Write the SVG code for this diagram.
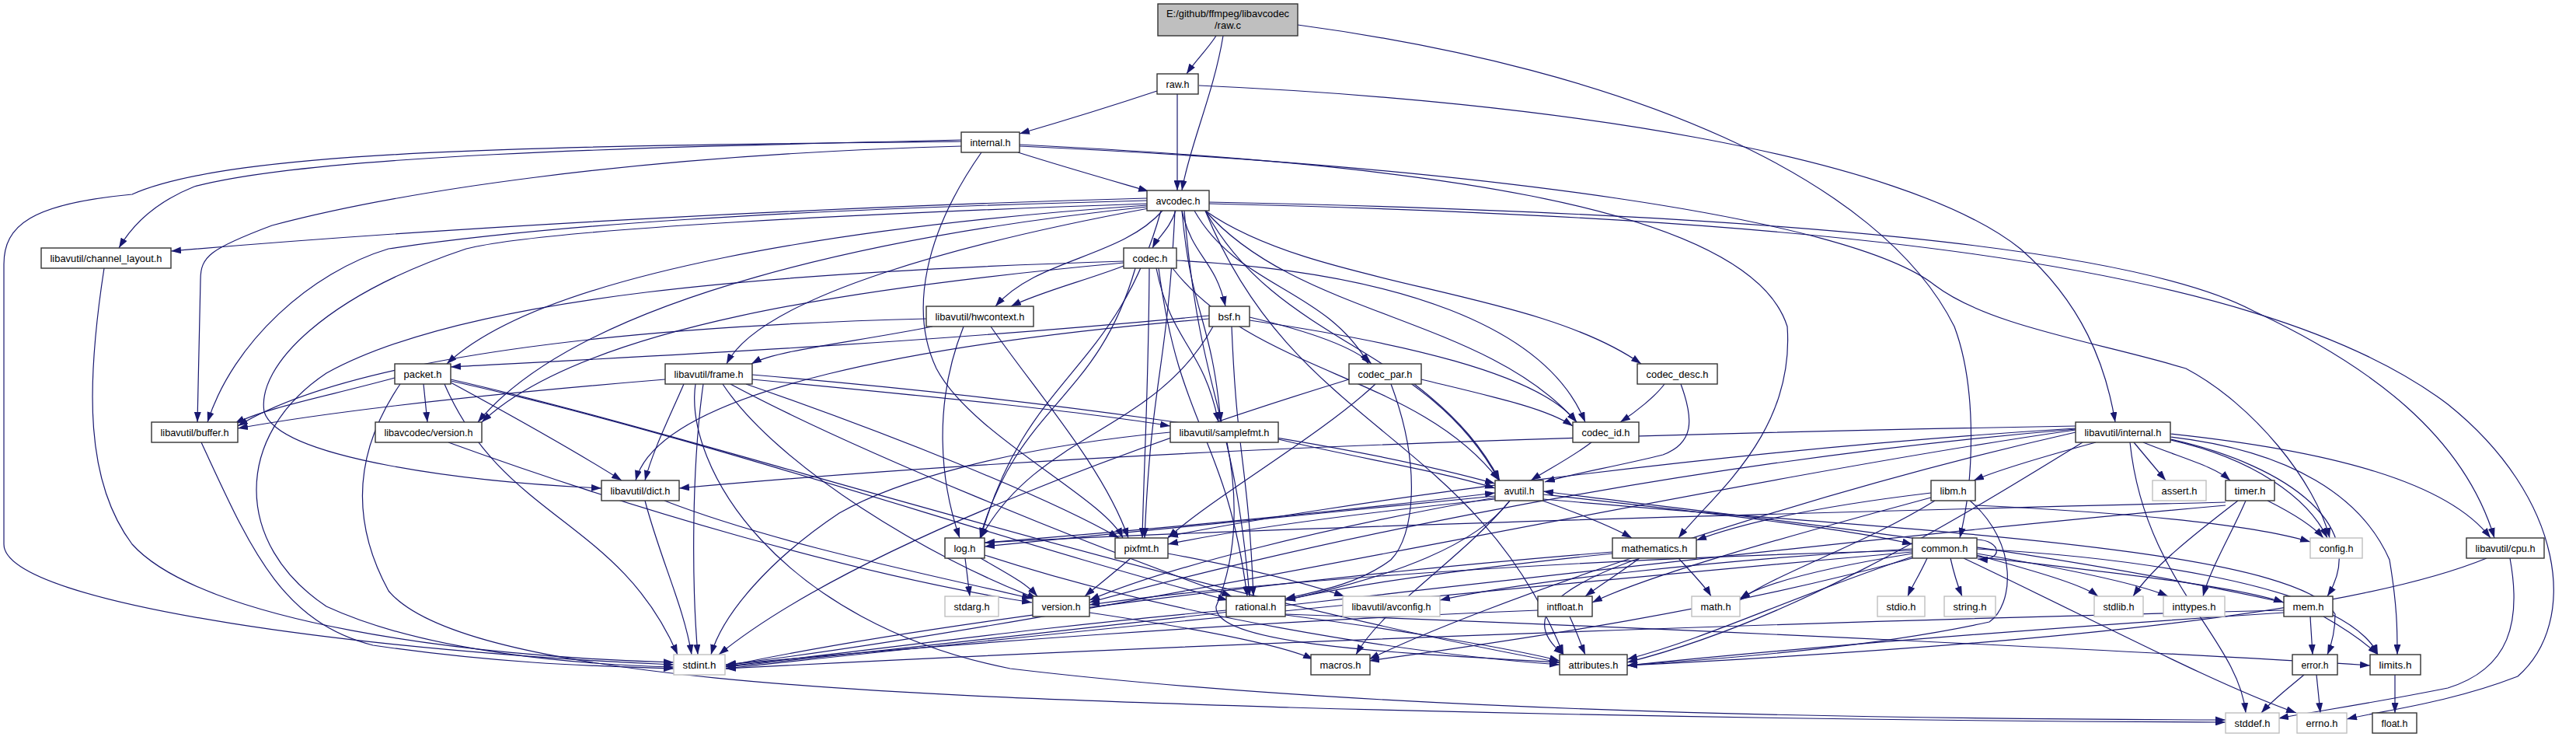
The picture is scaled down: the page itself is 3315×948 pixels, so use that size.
<svg xmlns="http://www.w3.org/2000/svg" width="3315" height="948" viewBox="0 0 3315 948">
<style>
.n rect{fill:#fff;stroke:#333;stroke-width:1.4}
.g rect{fill:#fff;stroke:#bfbfbf;stroke-width:1.4}
.n text,.g text{font-family:"Liberation Sans",Arial,sans-serif;font-size:13.5px;fill:#000;text-anchor:middle}
#edges path{fill:none;stroke:#191970;stroke-width:1.2;marker-end:url(#a)}
</style>
<defs>
<marker id="a" markerUnits="userSpaceOnUse" markerWidth="13" markerHeight="9" refX="13" refY="4.5" orient="auto" viewBox="0 0 13 9" preserveAspectRatio="none"><path d="M0,0 L13,4.5 L0,9 z" fill="#191970"/></marker>
</defs>
<rect width="3315" height="948" fill="#fff"/>
<g id="edges">
<path d="M1565,46 C1555,62 1537,80 1527,95"/>
<path d="M1574,46 C1562,120 1530,190 1521,245"/>
<path d="M1670,32 C2100,90 2420,230 2515,420 C2545,500 2540,620 2522,692"/>
<path d="M1489,117 C1420,140 1360,158 1312,172"/>
<path d="M1515,121 L1515,245"/>
<path d="M1543,110 C2000,130 2450,200 2600,320 C2680,390 2710,470 2722,543"/>
<path d="M1310,196 C1370,215 1430,232 1478,246"/>
<path d="M1237,180 C800,190 400,200 250,240 C200,260 170,290 153,319"/>
<path d="M1237,182 C700,188 300,192 170,250 C40,262 5,290 5,340 L5,700 C5,780 500,840 867,855"/>
<path d="M1237,188 C800,200 500,250 350,290 C270,320 258,330 258,360 L254,543"/>
<path d="M1263,196 C1190,300 1170,400 1205,474 C1250,560 1420,640 1445,692"/>
<path d="M1312,186 C1800,210 2250,260 2300,420 C2310,560 2200,640 2160,692"/>
<path d="M1312,188 C1900,215 2380,280 2490,367 C2560,420 2700,440 2813,474 C2900,520 2980,620 2998,692"/>
<path d="M1556,262 C2300,280 2900,330 3150,520 C3300,640 3320,800 3240,870 C3150,905 3060,915 3020,925"/>
<path d="M1521,271 C1533,407 1559,407 1571,543"/>
<path d="M1551,271 C1666,556 1897,556 2012,842"/>
<path d="M1551,271 C1645,444 1835,444 1929,618"/>
<path d="M1476,258 C1000,270 700,290 500,320 C400,350 300,440 267,543"/>
<path d="M1556,260 C2300,275 2750,320 2900,400 C3050,470 3170,560 3210,692"/>
<path d="M1476,255 C1100,265 600,290 220,323"/>
<path d="M1476,262 C1100,275 700,295 600,320 C420,380 330,470 340,530 C360,590 600,620 774,628"/>
<path d="M1478,268 C1250,310 980,380 935,468"/>
<path d="M1496,271 C1442,332 1335,332 1281,394"/>
<path d="M1494,271 C1436,481 1320,481 1262,692"/>
<path d="M1512,271 C1502,481 1482,481 1473,692"/>
<path d="M1524,271 C1545,519 1587,519 1608,767"/>
<path d="M1521,271 C1535,332 1563,332 1577,394"/>
<path d="M1513,271 C1505,295 1490,305 1483,319"/>
<path d="M1551,271 C1691,370 1972,370 2112,468"/>
<path d="M1537,271 C1593,370 1705,370 1761,468"/>
<path d="M1551,271 C1670,407 1910,407 2029,543"/>
<path d="M1476,264 C1100,290 700,350 575,468"/>
<path d="M1476,266 C1150,300 750,380 615,543"/>
<path d="M1446,336 C1000,350 600,380 420,480 C300,560 300,700 420,780 C550,840 750,855 867,858"/>
<path d="M1509,345 C1614,481 1824,481 1929,618"/>
<path d="M1446,342 C1400,360 1340,375 1301,394"/>
<path d="M1461,345 C1411,518 1311,518 1261,692"/>
<path d="M1479,345 C1478,500 1472,600 1470,692"/>
<path d="M1491,345 C1519,556 1577,556 1605,767"/>
<path d="M1488,345 C1508,444 1548,444 1568,543"/>
<path d="M1514,335 C1800,350 1990,420 2040,543"/>
<path d="M1446,338 C1100,370 750,420 620,543"/>
<path d="M1192,410 C800,420 450,460 306,548"/>
<path d="M1200,420 C1100,440 1000,450 967,468"/>
<path d="M1240,420 C1200,520 1210,620 1235,692"/>
<path d="M1275,420 C1330,500 1420,600 1452,692"/>
<path d="M1556,410 C1200,440 850,500 818,618"/>
<path d="M1561,420 C1486,556 1336,556 1262,692"/>
<path d="M1585,420 C1592,593 1606,593 1613,767"/>
<path d="M1608,412 C1800,440 1980,480 2029,543"/>
<path d="M1608,408 C1680,425 1740,445 1765,468"/>
<path d="M1556,406 C1200,440 900,455 580,472"/>
<path d="M515,494 C470,560 440,650 500,760 C600,880 1200,895 1660,910 C2200,925 2600,928 2864,929"/>
<path d="M572,494 C647,668 797,668 872,842"/>
<path d="M580,488 C900,560 1500,760 2007,852"/>
<path d="M508,486 C420,510 340,525 302,545"/>
<path d="M580,492 C650,530 740,580 800,618"/>
<path d="M580,490 C900,560 1300,700 1580,772"/>
<path d="M545,494 L550,543"/>
<path d="M895,494 C880,600 1000,800 1300,860 C1800,920 2500,925 2864,926"/>
<path d="M905,494 C890,600 890,750 898,842"/>
<path d="M968,482 C1300,510 1700,560 1924,622"/>
<path d="M856,488 C650,505 450,525 306,551"/>
<path d="M880,494 C860,540 840,580 830,618"/>
<path d="M940,494 C1100,580 1400,700 1585,767"/>
<path d="M968,488 C1200,510 1400,530 1506,548"/>
<path d="M960,494 C1150,560 1350,640 1440,692"/>
<path d="M930,494 C1000,600 1200,720 1335,770"/>
<path d="M1736,488 C1500,560 1100,700 925,842"/>
<path d="M1820,494 C1880,540 1910,580 1930,618"/>
<path d="M1790,494 C1830,600 1820,690 1790,720 C1750,750 1700,760 1654,770"/>
<path d="M1770,494 C1700,560 1560,640 1503,692"/>
<path d="M1829,488 C1920,510 1990,525 2024,548"/>
<path d="M2142,494 C2130,510 2105,530 2085,543"/>
<path d="M2163,494 C2180,540 2180,570 2140,585 C2080,600 2020,610 1988,620"/>
<path d="M134,345 C110,500 110,620 170,700 C260,800 600,845 867,852"/>
<path d="M259,569 C320,700 360,800 480,830 C650,855 780,857 867,860"/>
<path d="M577,569 C800,650 1100,740 1328,775"/>
<path d="M1506,556 C1300,575 1150,620 1080,660 C990,720 930,790 915,842"/>
<path d="M1645,565 C1750,590 1850,605 1924,628"/>
<path d="M1579,569 C1595,650 1590,720 1565,780 C1560,830 1800,840 2007,852"/>
<path d="M2048,569 C2020,590 1990,605 1970,618"/>
<path d="M2793,562 C2950,580 3040,640 3075,720 C3085,780 3085,810 3085,842"/>
<path d="M2671,553 C2200,620 1400,800 934,855"/>
<path d="M2741,569 C2760,750 2880,820 2890,917"/>
<path d="M2746,569 L2787,618"/>
<path d="M2793,566 C2900,590 2970,640 2995,692"/>
<path d="M2680,569 C2500,680 2300,800 2094,852"/>
<path d="M2758,569 C2810,590 2850,600 2870,618"/>
<path d="M2793,558 C3000,580 3150,620 3205,692"/>
<path d="M2671,548 C2000,560 1400,580 874,628"/>
<path d="M2671,556 C2300,640 1900,780 1762,848"/>
<path d="M2793,565 C2950,600 3050,680 2995,767"/>
<path d="M2671,551 C2200,580 1700,650 1503,690"/>
<path d="M2671,552 C2100,600 1600,720 1402,775"/>
<path d="M2697,569 C2620,590 2570,605 2540,618"/>
<path d="M830,644 C850,720 880,780 890,842"/>
<path d="M855,644 C1000,700 1200,740 1328,770"/>
<path d="M1986,636 C2200,660 2380,680 2461,700"/>
<path d="M1986,642 C2400,680 2950,700 3005,790 C3005,810 3000,830 2995,842"/>
<path d="M1943,644 C1900,700 1800,740 1654,772"/>
<path d="M1924,640 C1700,680 1500,730 1402,772"/>
<path d="M1943,644 C1880,720 1780,780 1745,842"/>
<path d="M1985,644 C2030,660 2070,675 2100,692"/>
<path d="M1924,638 C1700,660 1400,690 1267,703"/>
<path d="M1924,642 C1750,660 1600,680 1503,700"/>
<path d="M1267,698 C1500,680 1750,655 1924,634"/>
<path d="M2939,775 C2600,700 2200,660 1986,632"/>
<path d="M2490,644 C2400,700 2280,740 2239,772"/>
<path d="M2542,650 C2750,660 2900,675 2973,697"/>
<path d="M2535,644 C2600,700 2590,780 2560,800 C2400,835 2200,848 2094,856"/>
<path d="M2485,640 C2300,690 2120,740 2049,775"/>
<path d="M2485,634 C2350,650 2250,670 2183,695"/>
<path d="M2918,644 C2950,660 2975,675 2990,692"/>
<path d="M2880,644 C2820,690 2770,730 2745,767"/>
<path d="M2864,650 C2300,700 1500,800 934,858"/>
<path d="M2890,644 C2870,690 2845,730 2835,767"/>
<path d="M2864,646 C2300,660 1600,680 1267,698"/>
<path d="M1242,718 L1248,767"/>
<path d="M1267,714 C1500,790 1800,840 2007,855"/>
<path d="M1262,718 C1300,740 1320,750 1335,767"/>
<path d="M1503,712 C1600,730 1680,750 1730,767"/>
<path d="M1455,718 C1430,740 1410,755 1396,767"/>
<path d="M2075,710 C1700,740 1200,800 934,857"/>
<path d="M2160,718 C2180,740 2195,755 2202,767"/>
<path d="M2110,718 C1990,760 1960,800 2012,842"/>
<path d="M2075,712 C1900,730 1750,750 1654,772"/>
<path d="M2110,718 C2080,740 2060,752 2040,767"/>
<path d="M2527,718 C2700,800 2850,880 2955,917"/>
<path d="M2544,712 C2650,730 2750,750 2790,767"/>
<path d="M2544,706 C2800,720 2950,760 3000,790 C3040,810 3055,830 3060,842"/>
<path d="M2461,712 C2350,730 2270,750 2239,770"/>
<path d="M2461,710 C1900,760 1300,820 934,860"/>
<path d="M2480,718 C2470,740 2460,755 2455,767"/>
<path d="M2544,714 C2620,735 2680,752 2700,767"/>
<path d="M2510,718 C2515,740 2520,755 2525,767"/>
<path d="M2461,716 C2300,770 2200,820 2094,848"/>
<path d="M2461,718 C2200,790 1900,830 1762,850"/>
<path d="M2461,708 C2000,720 1600,750 1402,778"/>
<path d="M2461,706 C2200,720 1950,750 1853,772"/>
<path d="M2544,694 C2575,695 2580,722 2545,719"/>
<path d="M2544,716 C2750,740 2880,755 2939,775"/>
<path d="M3230,718 C3245,800 3230,860 3150,885 C3050,905 2980,915 2932,924"/>
<path d="M3200,718 C3000,800 2500,835 2094,856"/>
<path d="M1578,785 C1300,810 1100,840 934,857"/>
<path d="M1654,790 C2200,810 2800,840 3050,856"/>
<path d="M1654,791 C1800,810 1950,835 2007,850"/>
<path d="M1979,785 C1600,800 1200,830 934,855"/>
<path d="M2020,793 C2030,815 2035,830 2040,842"/>
<path d="M2990,793 C3020,810 3045,828 3060,842"/>
<path d="M2939,785 C2300,800 1500,830 934,860"/>
<path d="M2939,788 C2600,810 2300,835 2094,856"/>
<path d="M2973,793 L2976,842"/>
<path d="M2981,868 L2986,917"/>
<path d="M2965,868 C2945,885 2925,900 2910,917"/>
<path d="M3082,868 L3082,917"/>
<path d="M1402,788 C1550,810 1650,830 1690,848"/>
</g>
<g id="n_rawc" class="n"><rect x="1490" y="5" width="180" height="41" style="fill:#bfbfbf"/><text x="1580" y="22" textLength="158" lengthAdjust="spacingAndGlyphs">E:/github/ffmpeg/libavcodec</text><text x="1580" y="37" textLength="34" lengthAdjust="spacingAndGlyphs">/raw.c</text></g>
<g id="n_rawh" class="n"><rect x="1489" y="95" width="53" height="26"/><text x="1515.5" y="112.5" textLength="30" lengthAdjust="spacingAndGlyphs">raw.h</text></g>
<g id="n_internal" class="n"><rect x="1237" y="170" width="75" height="26"/><text x="1274.5" y="187.5" textLength="52" lengthAdjust="spacingAndGlyphs">internal.h</text></g>
<g id="n_avcodec" class="n"><rect x="1476" y="245" width="80" height="26"/><text x="1516" y="262.5" textLength="57" lengthAdjust="spacingAndGlyphs">avcodec.h</text></g>
<g id="n_chlayout" class="n"><rect x="53" y="319" width="167" height="26"/><text x="136.5" y="336.5" textLength="144" lengthAdjust="spacingAndGlyphs">libavutil/channel_layout.h</text></g>
<g id="n_codec" class="n"><rect x="1446" y="319" width="68" height="26"/><text x="1480" y="336.5" textLength="45" lengthAdjust="spacingAndGlyphs">codec.h</text></g>
<g id="n_hwctx" class="n"><rect x="1192" y="394" width="138" height="26"/><text x="1261" y="411.5" textLength="115" lengthAdjust="spacingAndGlyphs">libavutil/hwcontext.h</text></g>
<g id="n_bsf" class="n"><rect x="1556" y="394" width="52" height="26"/><text x="1582" y="411.5" textLength="29" lengthAdjust="spacingAndGlyphs">bsf.h</text></g>
<g id="n_packet" class="n"><rect x="508" y="468" width="72" height="26"/><text x="544" y="485.5" textLength="49" lengthAdjust="spacingAndGlyphs">packet.h</text></g>
<g id="n_frame" class="n"><rect x="856" y="468" width="112" height="26"/><text x="912" y="485.5" textLength="89" lengthAdjust="spacingAndGlyphs">libavutil/frame.h</text></g>
<g id="n_codecpar" class="n"><rect x="1736" y="468" width="93" height="26"/><text x="1782.5" y="485.5" textLength="70" lengthAdjust="spacingAndGlyphs">codec_par.h</text></g>
<g id="n_codecdesc" class="n"><rect x="2107" y="468" width="103" height="26"/><text x="2158.5" y="485.5" textLength="80" lengthAdjust="spacingAndGlyphs">codec_desc.h</text></g>
<g id="n_buffer" class="n"><rect x="195" y="543" width="111" height="26"/><text x="250.5" y="560.5" textLength="88" lengthAdjust="spacingAndGlyphs">libavutil/buffer.h</text></g>
<g id="n_lavcver" class="n"><rect x="483" y="543" width="137" height="26"/><text x="551.5" y="560.5" textLength="114" lengthAdjust="spacingAndGlyphs">libavcodec/version.h</text></g>
<g id="n_samplefmt" class="n"><rect x="1506" y="543" width="139" height="26"/><text x="1575.5" y="560.5" textLength="116" lengthAdjust="spacingAndGlyphs">libavutil/samplefmt.h</text></g>
<g id="n_codecid" class="n"><rect x="2024" y="543" width="85" height="26"/><text x="2066.5" y="560.5" textLength="62" lengthAdjust="spacingAndGlyphs">codec_id.h</text></g>
<g id="n_avuint" class="n"><rect x="2671" y="543" width="122" height="26"/><text x="2732" y="560.5" textLength="99" lengthAdjust="spacingAndGlyphs">libavutil/internal.h</text></g>
<g id="n_dict" class="n"><rect x="774" y="618" width="100" height="26"/><text x="824" y="635.5" textLength="77" lengthAdjust="spacingAndGlyphs">libavutil/dict.h</text></g>
<g id="n_avutil" class="n"><rect x="1924" y="618" width="62" height="26"/><text x="1955" y="635.5" textLength="39" lengthAdjust="spacingAndGlyphs">avutil.h</text></g>
<g id="n_libm" class="n"><rect x="2485" y="618" width="57" height="26"/><text x="2513.5" y="635.5" textLength="34" lengthAdjust="spacingAndGlyphs">libm.h</text></g>
<g id="n_assert" class="g"><rect x="2770" y="618" width="69" height="26"/><text x="2804.5" y="635.5" textLength="46" lengthAdjust="spacingAndGlyphs">assert.h</text></g>
<g id="n_timer" class="n"><rect x="2864" y="618" width="63" height="26"/><text x="2895.5" y="635.5" textLength="40" lengthAdjust="spacingAndGlyphs">timer.h</text></g>
<g id="n_log" class="n"><rect x="1216" y="692" width="51" height="26"/><text x="1241.5" y="709.5" textLength="28" lengthAdjust="spacingAndGlyphs">log.h</text></g>
<g id="n_pixfmt" class="n"><rect x="1435" y="692" width="68" height="26"/><text x="1469" y="709.5" textLength="45" lengthAdjust="spacingAndGlyphs">pixfmt.h</text></g>
<g id="n_mathematics" class="n"><rect x="2075" y="692" width="108" height="26"/><text x="2129" y="709.5" textLength="85" lengthAdjust="spacingAndGlyphs">mathematics.h</text></g>
<g id="n_common" class="n"><rect x="2461" y="692" width="83" height="26"/><text x="2502.5" y="709.5" textLength="60" lengthAdjust="spacingAndGlyphs">common.h</text></g>
<g id="n_config" class="g"><rect x="2973" y="692" width="67" height="26"/><text x="3006.5" y="709.5" textLength="44" lengthAdjust="spacingAndGlyphs">config.h</text></g>
<g id="n_cpu" class="n"><rect x="3174" y="692" width="100" height="26"/><text x="3224" y="709.5" textLength="77" lengthAdjust="spacingAndGlyphs">libavutil/cpu.h</text></g>
<g id="n_stdarg" class="g"><rect x="1216" y="767" width="69" height="26"/><text x="1250.5" y="784.5" textLength="46" lengthAdjust="spacingAndGlyphs">stdarg.h</text></g>
<g id="n_version" class="n"><rect x="1329" y="767" width="73" height="26"/><text x="1365.5" y="784.5" textLength="50" lengthAdjust="spacingAndGlyphs">version.h</text></g>
<g id="n_rational" class="n"><rect x="1578" y="767" width="76" height="26"/><text x="1616" y="784.5" textLength="53" lengthAdjust="spacingAndGlyphs">rational.h</text></g>
<g id="n_avconfig" class="g"><rect x="1728" y="767" width="125" height="26"/><text x="1790.5" y="784.5" textLength="102" lengthAdjust="spacingAndGlyphs">libavutil/avconfig.h</text></g>
<g id="n_intfloat" class="n"><rect x="1979" y="767" width="70" height="26"/><text x="2014" y="784.5" textLength="47" lengthAdjust="spacingAndGlyphs">intfloat.h</text></g>
<g id="n_mathh" class="g"><rect x="2177" y="767" width="62" height="26"/><text x="2208" y="784.5" textLength="39" lengthAdjust="spacingAndGlyphs">math.h</text></g>
<g id="n_stdio" class="g"><rect x="2416" y="767" width="61" height="26"/><text x="2446.5" y="784.5" textLength="38" lengthAdjust="spacingAndGlyphs">stdio.h</text></g>
<g id="n_string" class="g"><rect x="2502" y="767" width="66" height="26"/><text x="2535" y="784.5" textLength="43" lengthAdjust="spacingAndGlyphs">string.h</text></g>
<g id="n_stdlib" class="g"><rect x="2695" y="767" width="63" height="26"/><text x="2726.5" y="784.5" textLength="40" lengthAdjust="spacingAndGlyphs">stdlib.h</text></g>
<g id="n_inttypes" class="g"><rect x="2784" y="767" width="79" height="26"/><text x="2823.5" y="784.5" textLength="56" lengthAdjust="spacingAndGlyphs">inttypes.h</text></g>
<g id="n_mem" class="n"><rect x="2939" y="767" width="63" height="26"/><text x="2970.5" y="784.5" textLength="40" lengthAdjust="spacingAndGlyphs">mem.h</text></g>
<g id="n_stdint" class="g"><rect x="867" y="842" width="66" height="26"/><text x="900" y="859.5" textLength="43" lengthAdjust="spacingAndGlyphs">stdint.h</text></g>
<g id="n_macros" class="n"><rect x="1687" y="842" width="76" height="26"/><text x="1725" y="859.5" textLength="53" lengthAdjust="spacingAndGlyphs">macros.h</text></g>
<g id="n_attributes" class="n"><rect x="2007" y="842" width="87" height="26"/><text x="2050.5" y="859.5" textLength="64" lengthAdjust="spacingAndGlyphs">attributes.h</text></g>
<g id="n_error" class="n"><rect x="2950" y="842" width="58" height="26"/><text x="2979" y="859.5" textLength="35" lengthAdjust="spacingAndGlyphs">error.h</text></g>
<g id="n_limits" class="n"><rect x="3050" y="842" width="65" height="26"/><text x="3082.5" y="859.5" textLength="42" lengthAdjust="spacingAndGlyphs">limits.h</text></g>
<g id="n_stddef" class="g"><rect x="2864" y="917" width="69" height="26"/><text x="2898.5" y="934.5" textLength="46" lengthAdjust="spacingAndGlyphs">stddef.h</text></g>
<g id="n_errno" class="g"><rect x="2956" y="917" width="64" height="26"/><text x="2988" y="934.5" textLength="41" lengthAdjust="spacingAndGlyphs">errno.h</text></g>
<g id="n_float" class="n"><rect x="3053" y="917" width="57" height="26"/><text x="3081.5" y="934.5" textLength="34" lengthAdjust="spacingAndGlyphs">float.h</text></g>
</svg>
